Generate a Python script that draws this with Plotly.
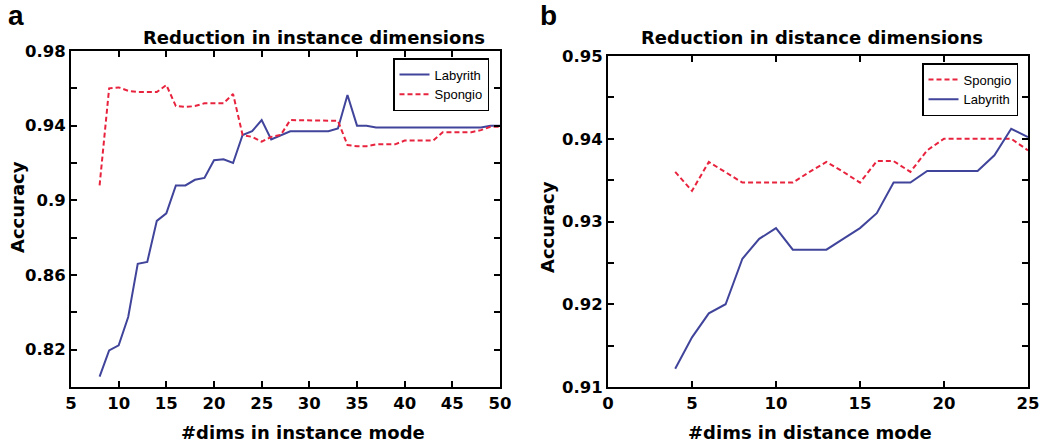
import plotly.graph_objects as go

# ---------------- data ----------------
dims_a = list(range(8, 51))
labyrith_a = [0.8056, 0.8196, 0.8223, 0.8375, 0.8660, 0.8670, 0.8890, 0.8930, 0.9080, 0.9080,
              0.9110, 0.9120, 0.9215, 0.9220, 0.9200, 0.9350, 0.9370, 0.9430, 0.9326, 0.9350,
              0.9370, 0.9370, 0.9370, 0.9370, 0.9370, 0.9385, 0.9564, 0.9400, 0.9400, 0.9390,
              0.9390, 0.9390, 0.9390, 0.9390, 0.9390, 0.9390, 0.9390, 0.9390, 0.9390, 0.9390,
              0.9390, 0.9400, 0.9400]
spongio_a = [0.9080, 0.9600, 0.9605, 0.9587, 0.9580, 0.9580, 0.9580, 0.9618, 0.9505, 0.9500,
             0.9505, 0.9520, 0.9520, 0.9520, 0.9570, 0.9350, 0.9340, 0.9314, 0.9340, 0.9350,
             0.9430, 0.9430, 0.9430, 0.9430, 0.9430, 0.9426, 0.9296, 0.9290, 0.9290, 0.9300,
             0.9300, 0.9300, 0.9320, 0.9320, 0.9320, 0.9320, 0.9365, 0.9365, 0.9365, 0.9365,
             0.9376, 0.9394, 0.9394]

dims_b = list(range(4, 26))
labyrith_b = [0.9122, 0.9160, 0.9189, 0.9200, 0.9255, 0.9279, 0.9292, 0.9266, 0.9266, 0.9266,
              0.9279, 0.9292, 0.9310, 0.9347, 0.9347, 0.9361, 0.9361, 0.9361, 0.9361, 0.9380,
              0.9412, 0.9402]
spongio_b = [0.9360, 0.9337, 0.9372, 0.9360, 0.9347, 0.9347, 0.9347, 0.9347, 0.9360, 0.9372,
             0.9360, 0.9347, 0.9373, 0.9373, 0.9360, 0.9386, 0.9400, 0.9400, 0.9400, 0.9400,
             0.9400, 0.9386]

xticks_a = [5, 10, 15, 20, 25, 30, 35, 40, 45, 50]
yticks_a = [0.80, 0.82, 0.84, 0.86, 0.88, 0.90, 0.92, 0.94, 0.96, 0.98]
ylabels_a = ["", "0.82", "", "0.86", "", "0.9", "", "0.94", "", "0.98"]
xticks_b = [0, 5, 10, 15, 20, 25]
yticks_b = [0.910, 0.915, 0.920, 0.925, 0.930, 0.935, 0.940, 0.945, 0.950]
ylabels_b = ["0.91", "", "0.92", "", "0.93", "", "0.94", "", "0.95"]

# ---------------- style ----------------
BLUE = "#40449a"
RED = "#e8233e"
FONT = "DejaVu Sans, sans-serif"
LFONT = "Liberation Sans, Arial, sans-serif"
W, H = 1042, 446

fig = go.Figure()
fig.add_trace(go.Scatter(x=dims_a, y=labyrith_a, mode="lines", name="Labyrith",
                         line=dict(color=BLUE, width=2), xaxis="x", yaxis="y", legend="legend"))
fig.add_trace(go.Scatter(x=dims_a, y=spongio_a, mode="lines", name="Spongio",
                         line=dict(color=RED, width=2, dash="5px,3px"), xaxis="x", yaxis="y", legend="legend"))
fig.add_trace(go.Scatter(x=dims_b, y=spongio_b, mode="lines", name="Spongio",
                         line=dict(color=RED, width=2, dash="5px,3px"), xaxis="x2", yaxis="y2", legend="legend2"))
fig.add_trace(go.Scatter(x=dims_b, y=labyrith_b, mode="lines", name="Labyrith",
                         line=dict(color=BLUE, width=2), xaxis="x2", yaxis="y2", legend="legend2"))

def px_x(p):
    return p / W

def px_y(p):
    return 1 - p / H

axis_common = dict(showline=True, linecolor="black", linewidth=2, mirror="ticks",
                   ticks="inside", ticklen=6, tickcolor="black", tickwidth=2,
                   showgrid=False, zeroline=False, automargin=False,
                   ticklabeloverflow="allow",
                   tickfont=dict(family=FONT, size=16.5, color="black", weight="bold"))

fig.update_layout(
    width=W, height=H,
    margin=dict(l=0, r=0, t=0, b=0),
    paper_bgcolor="white", plot_bgcolor="white",
    xaxis=dict(domain=[px_x(71), px_x(500)], range=[5, 50], tickvals=xticks_a,
               anchor="y", **axis_common),
    yaxis=dict(domain=[px_y(387), px_y(51)], range=[0.80, 0.98], tickvals=yticks_a,
               ticktext=ylabels_a, anchor="x", **axis_common),
    xaxis2=dict(domain=[px_x(608), px_x(1028)], range=[0, 25], tickvals=xticks_b,
                anchor="y2", **axis_common),
    yaxis2=dict(domain=[px_y(387), px_y(56)], range=[0.91, 0.95], tickvals=yticks_b,
                ticktext=ylabels_b, anchor="x2", **axis_common),
    legend=dict(x=px_x(489), y=px_y(58), xanchor="right", yanchor="top",
                bgcolor="white", bordercolor="black", borderwidth=1.5,
                font=dict(family=LFONT, size=13, color="black"), tracegroupgap=0),
    legend2=dict(x=px_x(1018), y=px_y(63), xanchor="right", yanchor="top",
                 bgcolor="white", bordercolor="black", borderwidth=1.5,
                 font=dict(family=LFONT, size=13, color="black"), tracegroupgap=0),
    showlegend=True,
)

annotations = [
    dict(text="<b>a</b>", x=px_x(6), y=px_y(16), font=dict(size=28, family=LFONT)),
    dict(text="<b>b</b>", x=px_x(538), y=px_y(16), font=dict(size=28, family=LFONT)),
    dict(text="<b>Reduction in instance dimensions</b>", x=px_x(314), y=px_y(37), font=dict(size=18)),
    dict(text="<b>Reduction in distance dimensions</b>", x=px_x(812), y=px_y(37), font=dict(size=18)),
    dict(text="<b>#dims in instance mode</b>", x=px_x(303), y=px_y(432), font=dict(size=18)),
    dict(text="<b>#dims in distance mode</b>", x=px_x(810), y=px_y(432), font=dict(size=18)),
    dict(text="<b>Accuracy</b>", x=px_x(17), y=px_y(207), font=dict(size=18), textangle=-90),
    dict(text="<b>Accuracy</b>", x=px_x(547), y=px_y(227), font=dict(size=18), textangle=-90),
]
for a in annotations:
    xa = "left" if a["text"] in ("<b>a</b>", "<b>b</b>") else "center"
    a["font"].setdefault("family", FONT)
    a["font"]["color"] = "black"
    fig.add_annotation(xref="paper", yref="paper", showarrow=False,
                       xanchor=xa, yanchor="middle", **a)

fig.write_html("out.html", config={"displayModeBar": False},
               post_script="document.body.style.margin='0';document.body.style.overflow='hidden';")
